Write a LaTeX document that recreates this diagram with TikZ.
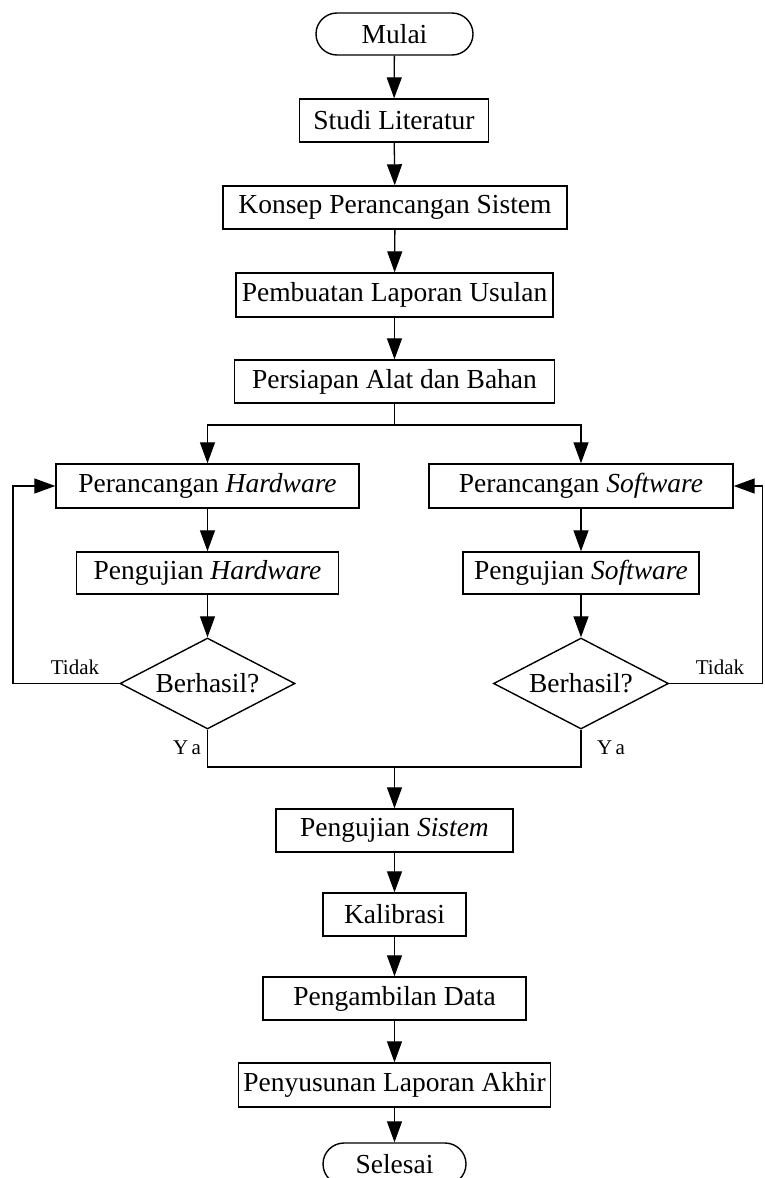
\documentclass[tikz,border=0pt]{standalone}
\usepackage{fontspec}
\setmainfont{Liberation Serif}
\usetikzlibrary{arrows.meta,shapes.geometric}

\begin{document}
\begin{tikzpicture}[x=1pt,y=-1pt,
  box/.style={draw,line width=1.4pt,rectangle,inner sep=0pt,minimum height=43pt,
    font=\fontsize{27.5}{30}\selectfont},
  term/.style={box,rounded corners=21pt,minimum height=42pt},
  decision/.style={draw,line width=1.4pt,diamond,aspect=1.92,inner sep=0pt,
    minimum width=175pt,minimum height=91pt,font=\fontsize{27.5}{30}\selectfont},
  flow/.style={line width=1.3pt,-{Triangle[length=21pt,width=15pt]}},
  link/.style={line width=1.3pt},
  lbl/.style={inner sep=0pt,font=\fontsize{21}{24}\selectfont}]

\useasboundingbox (0,0) rectangle (764,1178);

% main column
\node[term,minimum width=157pt] (mulai) at (394.5,34) {Mulai};
\node[box,minimum width=189pt] (studi) at (394,120.5) {Studi Literatur};
\node[box,minimum width=344pt] (konsep) at (395,207.5) {Konsep Perancangan Sistem};
\node[box,minimum width=317pt,minimum height=44pt] (usulan) at (394.5,295) {Pembuatan Laporan Usulan};
\node[box,minimum width=320pt] (persiapan) at (394.5,381.5) {Persiapan Alat dan Bahan};

% hardware branch
\node[box,minimum width=303pt,minimum height=44pt] (rancHW) at (207.5,486) {Perancangan \textit{Hardware}};
\node[box,minimum width=262pt,minimum height=42pt] (ujiHW) at (207.5,573) {Pengujian \textit{Hardware}};
\node[decision] (cekHW) at (207.5,683.5) {Berhasil?};

% software branch
\node[box,minimum width=304pt,minimum height=44pt] (rancSW) at (581,486) {Perancangan \textit{Software}};
\node[box,minimum width=236pt,minimum height=42pt] (ujiSW) at (581,573) {Pengujian \textit{Software}};
\node[decision] (cekSW) at (581,683.5) {Berhasil?};

% closing column
\node[box,minimum width=237pt] (ujiSys) at (394.5,830.5) {Pengujian \textit{Sistem}};
\node[box,minimum width=143pt] (kalib) at (394.5,914.5) {Kalibrasi};
\node[box,minimum width=263pt] (ambil) at (394.5,998.5) {Pengambilan Data};
\node[box,minimum width=312pt,minimum height=44pt] (susun) at (394.5,1085) {Penyusunan Laporan Akhir};
\node[term,minimum width=143pt] (selesai) at (394.5,1164) {Selesai};

% junction points
\coordinate (split) at (394.5,425);
\coordinate (merge) at (394.5,767);
\coordinate (loopL) at (13,683.5);
\coordinate (loopR) at (762.5,683.5);

% connectors
\draw[flow] (mulai) -- (studi);
\draw[flow] (studi) -- (konsep);
\draw[flow] (konsep) -- (usulan);
\draw[flow] (usulan) -- (persiapan);
\draw[link] (persiapan) -- (split);
\draw[flow] (split) -| (rancHW.north);
\draw[flow] (split) -| (rancSW.north);

\draw[flow] (rancHW) -- (ujiHW);
\draw[flow] (ujiHW) -- (cekHW);
\draw[flow] (rancSW) -- (ujiSW);
\draw[flow] (ujiSW) -- (cekSW);

\draw[flow] (cekHW.west) -- (loopL) |- (rancHW.west);
\draw[flow] (cekSW.east) -- (loopR) |- (rancSW.east);

\draw[link] (cekHW.south) |- (merge);
\draw[link] (cekSW.south) |- (merge);
\draw[flow] (merge) -- (ujiSys);

\draw[flow] (ujiSys) -- (kalib);
\draw[flow] (kalib) -- (ambil);
\draw[flow] (ambil) -- (susun);
\draw[flow] (susun) -- (selesai);

% branch labels
\node[lbl] (tidakL) at (75,667) {Tidak};
\node[lbl] (tidakR) at (720,667) {Tidak};
\node[lbl] (yaL) at (187,748) {Y\,a};
\node[lbl] (yaR) at (611,748) {Y\,a};

\end{tikzpicture}
\end{document}
